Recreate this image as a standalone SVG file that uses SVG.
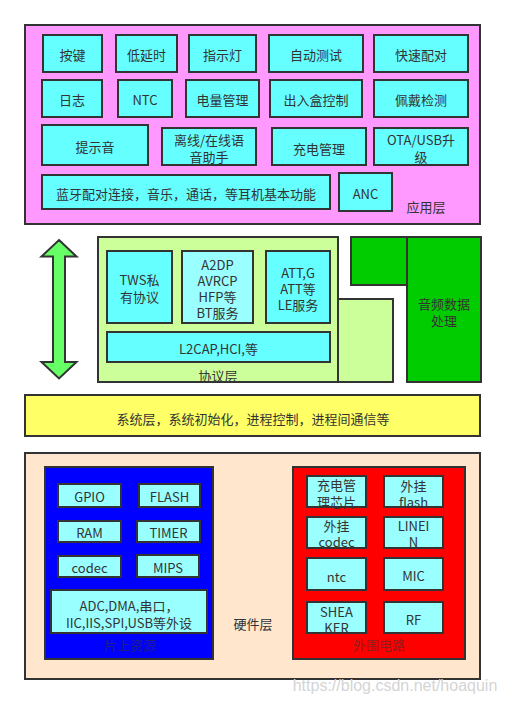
<svg xmlns="http://www.w3.org/2000/svg" width="505" height="705" viewBox="0 0 505 705">
<style>
  .b{stroke:#333;stroke-width:2}
  .c1{fill:#66FFFF}
  .c2{fill:#99FFFF}
  text{font-family:"Noto Sans CJK SC","Noto Sans",sans-serif;font-size:13px;fill:#333;text-anchor:middle;dominant-baseline:central}
  .dim{fill:#333;fill-opacity:0.6}
</style>
<rect width="505" height="705" fill="#fff"/>

<!-- Application layer -->
<g id="app-layer">
  <rect class="b" x="25" y="25" width="455" height="199" fill="#FF99FF"/>
  <text x="426" y="206">应用层</text>
</g>
<g id="n-anjian"><rect class="b c1" x="43" y="35" width="59" height="37"/><text x="72.5" y="54">按键</text></g>
<g id="n-diyanshi"><rect class="b c1" x="116" y="35" width="61" height="37"/><text x="146.5" y="54">低延时</text></g>
<g id="n-zhishideng"><rect class="b c1" x="189" y="35" width="67" height="37"/><text x="222.5" y="54">指示灯</text></g>
<g id="n-zidongceshi"><rect class="b c1" x="269" y="35" width="94" height="37"/><text x="316" y="54">自动测试</text></g>
<g id="n-kuaisupeidui"><rect class="b c1" x="374" y="35" width="94" height="37"/><text x="421" y="54">快速配对</text></g>

<g id="n-rizhi"><rect class="b c1" x="42" y="80" width="60" height="37"/><text x="72" y="99">日志</text></g>
<g id="n-ntc"><rect class="b c1" x="118" y="80" width="54" height="37"/><text x="145" y="99">NTC</text></g>
<g id="n-dianliang"><rect class="b c1" x="186" y="80" width="73" height="37"/><text x="222.5" y="99">电量管理</text></g>
<g id="n-churuhe"><rect class="b c1" x="270" y="80" width="92" height="37"/><text x="316" y="99">出入盒控制</text></g>
<g id="n-peidai"><rect class="b c1" x="374" y="80" width="94" height="37"/><text x="421" y="99">佩戴检测</text></g>

<g id="n-tishiyin"><rect class="b c1" x="42" y="125" width="106" height="40"/><text x="95" y="146">提示音</text></g>
<g id="n-yuyin"><rect class="b c1" x="162" y="128" width="94" height="37"/><text x="209" y="139.5">离线/在线语<tspan x="209" y="156">音助手</tspan></text></g>
<g id="n-chongdian"><rect class="b c1" x="272" y="128" width="94" height="37"/><text x="319" y="148">充电管理</text></g>
<g id="n-ota"><rect class="b c1" x="374" y="128" width="94" height="37"/><text x="421" y="139.5">OTA/USB升<tspan x="421" y="156">级</tspan></text></g>

<g id="n-lanya"><rect class="b c1" x="42" y="175" width="288" height="34"/><text x="186" y="193">蓝牙配对连接，音乐，通话，等耳机基本功能</text></g>
<g id="n-anc"><rect class="b c1" x="339" y="173" width="53" height="38"/><text x="365.5" y="193">ANC</text></g>

<!-- Protocol layer -->
<g id="proto-layer">
  <rect class="b" x="338" y="299" width="55" height="83" fill="#CCFF99"/>
  <rect class="b" x="98" y="237" width="240" height="145" fill="#CCFF99"/>
  <text x="218" y="375">协议层</text>
</g>
<g id="n-tws"><rect class="b c1" x="107" y="251" width="65" height="72"/><text x="139.5" y="279.5">TWS私<tspan x="139.5" y="296">有协议</tspan></text></g>
<g id="n-a2dp"><rect class="b c2" x="182" y="251" width="71" height="72"/><text x="217.5" y="264">A2DP<tspan x="217.5" y="279.5">AVRCP</tspan><tspan x="217.5" y="295.5">HFP等</tspan><tspan x="217.5" y="312">BT服务</tspan></text></g>
<g id="n-att"><rect class="b c1" x="266" y="251" width="64" height="72"/><text x="298" y="272.5">ATT,G<tspan x="298" y="288">ATT等</tspan><tspan x="298" y="304">LE服务</tspan></text></g>
<g id="n-l2cap"><rect class="b c1" x="107" y="332" width="223" height="30"/><text x="218.5" y="348">L2CAP,HCI,等</text></g>

<g id="n-audio">
  <rect class="b" x="351" y="237" width="56" height="48" fill="#00CC00"/>
  <rect class="b" x="407" y="237" width="74" height="145" fill="#00CC00"/>
  <text x="444" y="303">音频数据<tspan x="444" y="320">处理</tspan></text>
</g>

<!-- System layer -->
<g id="sys-layer">
  <rect class="b" x="25" y="395" width="455" height="41" fill="#FFFF66"/>
  <text x="253" y="418">系统层，系统初始化，进程控制，进程间通信等</text>
</g>

<!-- Hardware layer -->
<g id="hw-layer">
  <rect class="b" x="25" y="453" width="455" height="226" fill="#FFE6CC"/>
  <text x="253" y="623">硬件层</text>
</g>
<g id="onchip">
  <rect class="b" x="45" y="467" width="168" height="192" fill="#0000FF"/>
  <text class="dim" x="130" y="644">片上资源</text>
</g>
<g id="n-gpio"><rect class="b c2" x="58" y="484" width="63" height="23"/><text x="89.5" y="496">GPIO</text></g>
<g id="n-flash"><rect class="b c2" x="139" y="484" width="61" height="23"/><text x="169.5" y="496">FLASH</text></g>
<g id="n-ram"><rect class="b c2" x="58" y="521" width="63" height="21"/><text x="89.5" y="532">RAM</text></g>
<g id="n-timer"><rect class="b c2" x="137" y="521" width="63" height="21"/><text x="168.5" y="532">TIMER</text></g>
<g id="n-codec"><rect class="b c2" x="58" y="556" width="63" height="21"/><text x="89.5" y="567">codec</text></g>
<g id="n-mips"><rect class="b c2" x="137" y="555" width="62" height="22"/><text x="168" y="567">MIPS</text></g>
<g id="n-adc"><rect class="b c2" x="51" y="590" width="156" height="43"/><text x="129" y="605">ADC,DMA,串口，<tspan x="129" y="621.5">IIC,IIS,SPI,USB等外设</tspan></text></g>

<g id="periph">
  <rect class="b" x="293" y="467" width="172" height="192" fill="#FF0000"/>
  <text class="dim" x="379" y="644">外围电路</text>
</g>
<g id="n-chip"><rect class="b c2" x="307" y="476" width="59" height="31"/><text x="336.5" y="484.5">充电管<tspan x="336.5" y="500.5">理芯片</tspan></text></g>
<g id="n-extflash"><rect class="b c2" x="384" y="476" width="59" height="31"/><text x="413.5" y="485">外挂<tspan x="413.5" y="501">flash</tspan></text></g>
<g id="n-extcodec"><rect class="b c2" x="307" y="517" width="59" height="31"/><text x="336.5" y="525">外挂<tspan x="336.5" y="541">codec</tspan></text></g>
<g id="n-linein"><rect class="b c2" x="384" y="517" width="59" height="31"/><text x="413.5" y="525">LINEI<tspan x="413.5" y="541">N</tspan></text></g>
<g id="n-ntc2"><rect class="b c2" x="307" y="558" width="59" height="32"/><text x="336.5" y="576">ntc</text></g>
<g id="n-mic"><rect class="b c2" x="384" y="558" width="59" height="32"/><text x="413.5" y="575">MIC</text></g>
<g id="n-sheaker"><rect class="b c2" x="307" y="602" width="59" height="31"/><text x="336.5" y="611">SHEA<tspan x="336.5" y="627">KER</tspan></text></g>
<g id="n-rf"><rect class="b c2" x="384" y="602" width="59" height="31"/><text x="413.5" y="619">RF</text></g>

<!-- Connectors -->
<g id="connectors">
  <path class="b" fill="#66FF66" stroke-linejoin="miter" d="M59,240 L76.5,256.5 L65,256.5 L65,362 L76.5,362 L59,378.5 L41.5,362 L53,362 L53,256.5 L41.5,256.5 Z"/>
</g>

<text x="395" y="685" style="font-family:'Liberation Sans',Arial,sans-serif;font-size:16px;fill:#d4d4d4">https://blog.csdn.net/hoaquin</text>
</svg>
